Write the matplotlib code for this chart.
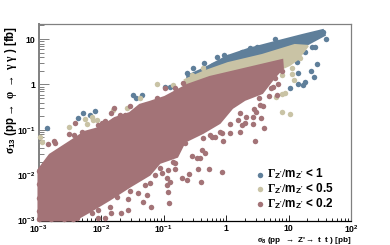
import numpy as np
import matplotlib
matplotlib.use("Agg")
import matplotlib.pyplot as plt

plt.rcParams["font.family"] = ["Liberation Sans", "DejaVu Sans"]
plt.rcParams["font.weight"] = "bold"
plt.rcParams["mathtext.fontset"] = "custom"
plt.rcParams["mathtext.rm"] = "Liberation Serif"
plt.rcParams["mathtext.it"] = "Liberation Serif"
plt.rcParams["mathtext.bf"] = "Liberation Sans:bold"

# ---- values, log10(sigma) ----

# dense parts of the clouds (outlines)
blue_band_x = [-0.62, -0.34, 0.03, 0.35, 0.78, 1.22, 1.55, 1.58, 1.31, 1.10, 0.03, -0.62]
blue_band_y = [0.19, 0.36, 0.63, 0.78, 0.935, 1.09, 1.20, 1.09, 0.89, 0.80, 0.41, 0.055]

tan_band_x = [-0.66, -0.37, 0.03, 0.58, 1.10, 1.31, 1.15, 1.02, 0.91, -0.62]
tan_band_y = [0.10, 0.275, 0.47, 0.65, 0.87, 0.85, 0.56, 0.43, 0.36, -0.12]

red_band_x = [-3, -3, -2.82, -2.50, -2.26, -2.02, -1.78, -1.54, -1.38, -1.22, -0.98, -0.62,
              -0.26, 0.22, 0.90, 0.91, 0.78, 0.58, 0.30, 0.10, -0.10, -0.37, -0.66, -0.78,
              -1.06, -1.22, -1.54, -1.86, -2.18, -2.38, -2.42]
red_band_y = [-3, -1.88, -1.55, -1.265, -1.045, -0.955, -0.74, -0.63, -0.45, -0.385, -0.275, -0.01,
              0.165, 0.32, 0.54, 0.36, 0.165, -0.19, -0.34, -0.52, -0.85, -1.07, -1.265, -1.595,
              -1.73, -1.99, -2.255, -2.54, -2.805, -2.96, -3]

# separate points
blue_x = [1.42, 1.38, 1.26, 1.14, 1.46, 1.36, 1.41, 1.15, 1.15, 1.26, 1.23, 1.02, 1.60, 1.55, 0.78,
          -0.35, -0.98, -0.90, -0.62, -0.53, -0.21, -0.14, -0.03, -1.49, -1.34, -1.44,
          -2.10, -2.18, -2.29, -2.37, -2.86, 0.26, 0.50, 0.03, 0.38]
blue_y = [0.83, 0.83, 0.72, 0.50, 0.45, 0.30, 0.17, 0.25, 0.01, 0.06, -0.01, -0.08, 1.00, 1.155, 1.00,
          0.47, -0.055, -0.055, 0.25, 0.36, 0.43, 0.60, 0.65, -0.23, -0.23, -0.30,
          -0.58, -0.67, -0.63, -0.74, -0.96, 0.715, 0.825, 0.605, 0.80]

tan_x = [-1.10, -2.98, -2.94, -2.51, -2.26, -2.22, -2.14, -2.13, -2.06, -1.58, -1.81, -1.38,
         -0.85, -0.54, -0.37, 0.90, 1.06, 1.09, 0.90, 0.94, 0.80, 0.90, 1.02, 1.18, 1.06]
tan_y = [0.01, -1.155, -1.265, -0.935, -0.76, -0.87, -0.715, -0.78, -0.78, -0.52, -0.56, -0.30,
         -0.01, 0.21, 0.36, 0.21, 0.23, 0.10, -0.21, -0.19, -0.275, -0.605, -0.65, 0.58, 0.36]

red_x = [0.90, 0.78, 0.83, 0.75, 0.72, 0.82, 0.69, 0.53, 0.54, 0.59, 0.45, 0.48, 0.22, 0.32, 0.56,
         0.43, 0.19, 0.43, 0.46, 0.61, 0.30, 0.26, 0.22, 0.06, 0.06, -0.05, -0.06, -0.27, -0.45,
         -0.40, -0.34, -0.38, -0.42, -0.46, -0.22, -0.10, -0.59, -0.70, -0.62, -0.94, -0.90,
         -1.02, -1.14, -0.54, -0.91, -0.93, -1.20, -1.33, -1.57, -1.68, -1.94, -2.05, -1.84,
         -1.26, -1.41, -1.57, -1.74, -1.86, -2.05, -0.94,
         -1.79, -1.84, -1.94, -2.42, -2.51, -2.75, -2.85, -1.54, -2.05, -2.30, -2.43, -1.70,
         -1.62, -1.79, -0.69, -0.98, -1.10,
         -3.0, -3.0, -3.0, -3.0, -3.0, -2.8, -2.6, -2.45,
         -0.37, -0.26, -0.18, -0.06, -0.66, -0.85, -1.06, -0.93, -0.82, -1.22, -1.30, -1.54,
         -2.14, -2.38, -0.82, -2.74, -2.62, -2.18, -1.98, -1.78, -0.82]
red_y = [0.30, 0.14, 0.01, -0.055, -0.08, -0.23, -0.25, -0.30, -0.45, -0.47, -0.54, -0.605, -0.63, -0.715, -0.74,
         -0.715, -0.78, -0.87, -1.24, -0.96, -0.85, -0.89, -1.045, -0.87, -1.07, -1.24, -1.925, -1.86, -1.86,
         -2.145, -1.51, -1.44, -1.62, -1.62, -1.155, -1.045, -1.97, -2.06, -2.10, -2.06, -2.145,
         -1.95, -1.99, -1.57, -2.61, -2.365, -2.695, -2.585, -2.76, -2.83, -2.94, -2.94, -2.83,
         -2.43, -2.39, -2.52, -2.475, -2.695, -2.76, -2.21,
         -0.52, -0.63, -0.80, -0.85, -1.09, -1.24, -1.31, -0.47, -0.89, -1.045, -1.11, -0.67,
         -0.67, -0.78, 0.03, -0.08, -0.30,
         -1.9, -2.2, -2.5, -2.8, -2.97, -2.97, -2.97, -2.97,
         -1.18, -1.11, -1.155, -1.07, -1.29, -1.72, -1.84, -1.88, -1.86, -2.17, -2.21, -2.36,
         -2.83, -2.94, -1.73, -1.29, -1.485, -1.09, -0.85, -0.935, -0.08]

x_ticks = [1e-3, 1e-2, 1e-1, 1, 10, 100]
x_labels = [r"$\mathbf{10^{-3}}$", r"$\mathbf{10^{-2}}$", r"$\mathbf{10^{-1}}$", "1", "10", r"$\mathbf{10^{2}}$"]
y_ticks = [1e-3, 1e-2, 1e-1, 1, 10]
y_labels = [r"$\mathbf{10^{-3}}$", r"$\mathbf{10^{-2}}$", r"$\mathbf{10^{-1}}$", "1", "10"]

blue = "#5f7f9a"
tan = "#c9c3a5"
red = "#a37377"
gray = "#808080"

# ---- plot ----

fig = plt.figure(figsize=(3.9, 2.45), dpi=100)
ax = fig.add_axes([38.5 / 390, 1 - 220.5 / 245, 312.5 / 390, 196 / 245])
ax.set_xscale("log")
ax.set_yscale("log")

series = [
    (blue, blue_band_x, blue_band_y, blue_x, blue_y, r"$\Gamma_{\mathbf{Z'}}/\mathbf{m}_{\mathbf{Z'}}$ < 1"),
    (tan, tan_band_x, tan_band_y, tan_x, tan_y, r"$\Gamma_{\mathbf{Z'}}/\mathbf{m}_{\mathbf{Z'}}$ < 0.5"),
    (red, red_band_x, red_band_y, red_x, red_y, r"$\Gamma_{\mathbf{Z'}}/\mathbf{m}_{\mathbf{Z'}}$ < 0.2"),
]
for i, (col, bx, by, px, py, lab) in enumerate(series):
    ax.fill(10 ** np.array(bx), 10 ** np.array(by), color=col, lw=1.5, zorder=3 + i, clip_on=False)
    ax.scatter(10 ** np.array(px), 10 ** np.array(py), s=15.5, color=col, linewidths=0,
               zorder=3 + i, clip_on=False, label=lab)

ax.set_xlim(1e-3, 1e2)
ax.set_ylim(1e-3, 21)

for side in ["top", "right"]:
    ax.spines[side].set_color(gray)
    ax.spines[side].set_linewidth(0.9)
ax.spines["left"].set_color(gray)
ax.spines["left"].set_linewidth(1.4)
ax.spines["bottom"].set_color("black")
ax.spines["bottom"].set_linewidth(0.9)

ax.set_xticks(x_ticks, x_labels)
ax.set_yticks(y_ticks, y_labels)
ax.xaxis.set_minor_locator(matplotlib.ticker.LogLocator(10, subs=np.arange(2, 10), numticks=12))
ax.yaxis.set_minor_locator(matplotlib.ticker.LogLocator(10, subs=np.arange(2, 10), numticks=12))
ax.xaxis.set_minor_formatter(matplotlib.ticker.NullFormatter())
ax.yaxis.set_minor_formatter(matplotlib.ticker.NullFormatter())
ax.tick_params(axis="x", which="major", direction="in", length=4.5, width=0.6, labelsize=6.2, pad=2.2)
ax.tick_params(axis="x", which="minor", direction="in", length=2.3, width=0.6)
ax.tick_params(axis="y", which="major", direction="in", length=7, width=0.7, color=gray, labelsize=6.2, pad=2)
ax.tick_params(axis="y", which="minor", direction="in", length=3.5, width=0.7, color=gray)

fig.text(351 / 390, 1 - 241.5 / 245, r"$\sigma_{\mathbf{8}}$ (pp  $\rightarrow$ Z'$\rightarrow$ t  t ) [pb]",
         ha="right", va="baseline", fontsize=5.9, fontweight="bold")
fig.text(11 / 390, 1 - 90 / 245, r"$\sigma_{\mathbf{13}}$ (pp$\rightarrow$ $\varphi$ $\rightarrow$ $\gamma$ $\gamma$ ) [fb]",
         rotation=90, ha="center", va="center", fontsize=8.3, fontweight="bold")

ax.legend(loc="lower left", bbox_to_anchor=(248 / 390, 1 - 211 / 245), bbox_transform=fig.transFigure,
          frameon=False, handletextpad=-0.35, labelspacing=0.0, borderpad=0, borderaxespad=0,
          prop={"size": 8.5, "weight": "bold"})

fig.savefig("out.png", dpi=100)
